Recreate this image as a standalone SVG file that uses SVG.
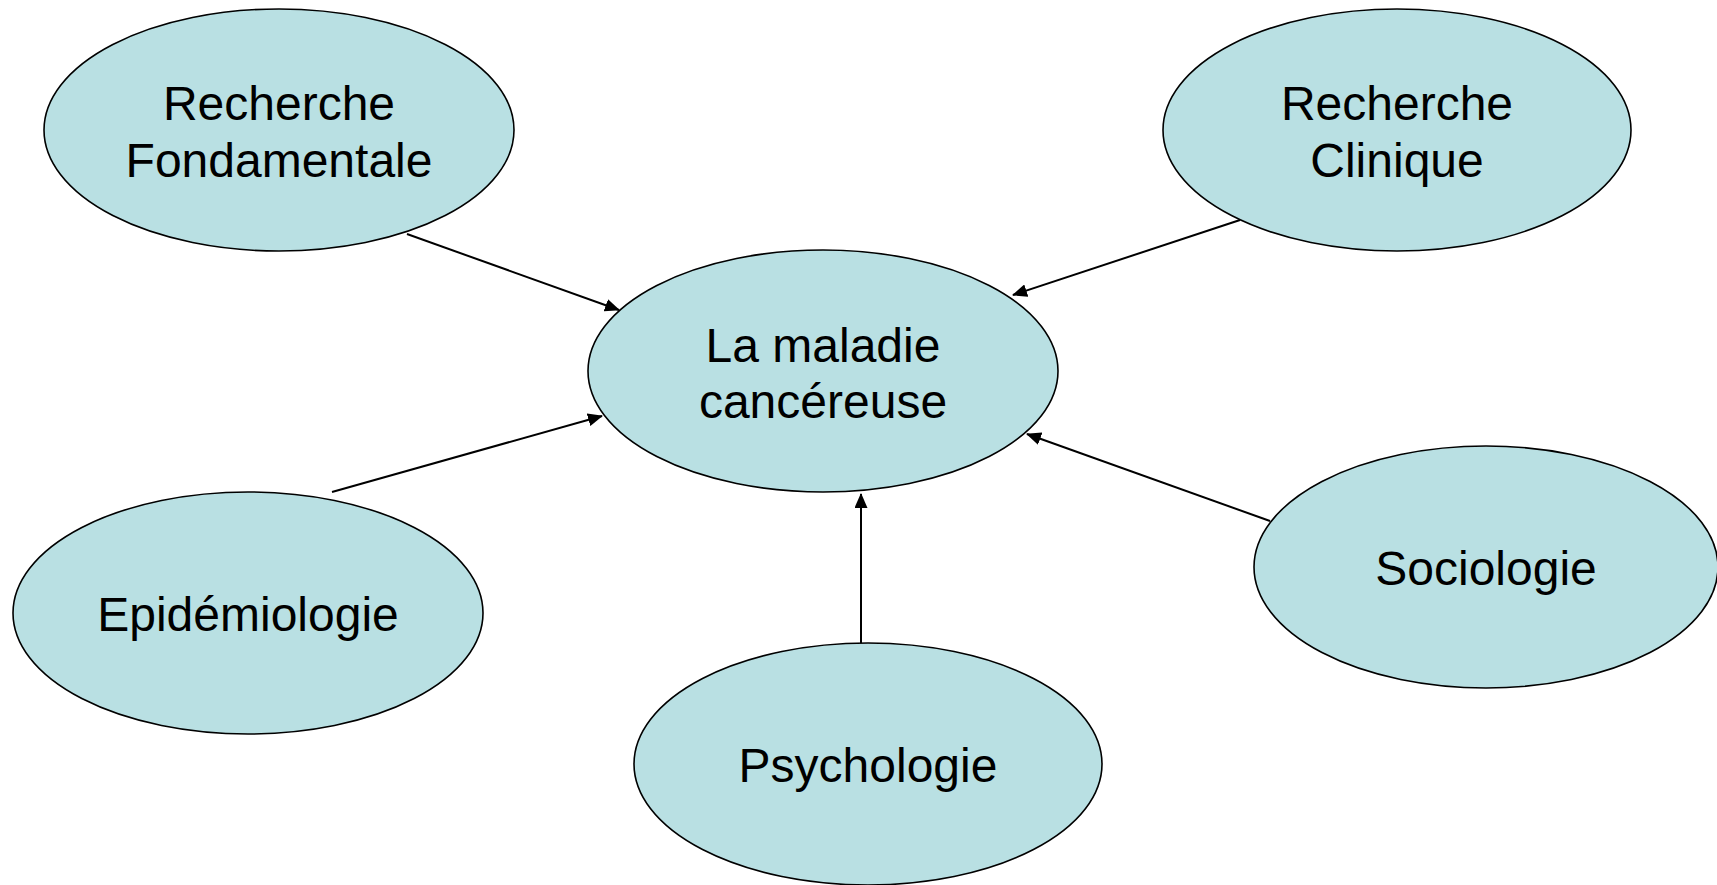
<svg xmlns="http://www.w3.org/2000/svg" width="1717" height="885" viewBox="0 0 1717 885">
<style>
.n ellipse{fill:#B9E0E3;stroke:#000;stroke-width:1.6}
.n text{font-family:"Liberation Sans",Arial,sans-serif;font-size:48px;fill:#000;text-anchor:middle}
.c line{stroke:#000;stroke-width:2;marker-end:url(#ah)}
</style>
<defs>
<marker id="ah" markerWidth="15" markerHeight="13" refX="14" refY="6.5" orient="auto" markerUnits="userSpaceOnUse">
<path d="M0,0 L15,6.5 L0,13 Z" fill="#000"/>
</marker>
</defs>
<rect width="1717" height="885" fill="#fff"/>
<g class="c" id="connectors">
<line x1="407" y1="234" x2="619" y2="310"/>
<line x1="1240" y1="220" x2="1013" y2="295"/>
<line x1="332" y1="492" x2="602" y2="416"/>
<line x1="861" y1="643" x2="861" y2="494"/>
<line x1="1270" y1="521" x2="1027" y2="434"/>
</g>
<g class="n" id="recherche-fondamentale">
<ellipse cx="279" cy="130" rx="235" ry="121"/>
<text x="279" y="120">Recherche</text>
<text x="279" y="177">Fondamentale</text>
</g>
<g class="n" id="recherche-clinique">
<ellipse cx="1397" cy="130" rx="234" ry="121"/>
<text x="1397" y="120">Recherche</text>
<text x="1397" y="177">Clinique</text>
</g>
<g class="n" id="maladie">
<ellipse cx="823" cy="371" rx="235" ry="121"/>
<text x="823" y="362">La maladie</text>
<text x="823" y="418">cancéreuse</text>
</g>
<g class="n" id="epidemiologie">
<ellipse cx="248" cy="613" rx="235" ry="121"/>
<text x="248" y="631">Epidémiologie</text>
</g>
<g class="n" id="psychologie">
<ellipse cx="868" cy="764" rx="234" ry="121"/>
<text x="868" y="782">Psychologie</text>
</g>
<g class="n" id="sociologie">
<ellipse cx="1486" cy="567" rx="232" ry="121"/>
<text x="1486" y="585">Sociologie</text>
</g>
</svg>
